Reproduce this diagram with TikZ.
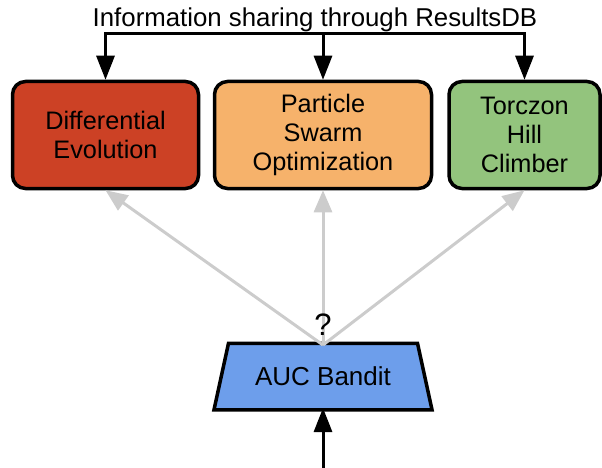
\documentclass[tikz,border=0pt]{standalone}
\usepackage{fontspec}
\setmainfont{Liberation Sans}
\usetikzlibrary{arrows.meta}
\definecolor{deRed}{HTML}{CC4125}
\definecolor{psoOrange}{HTML}{F6B26B}
\definecolor{tzGreen}{HTML}{93C47D}
\definecolor{aucBlue}{HTML}{6D9EEB}
\definecolor{lightGray}{HTML}{CCCCCC}
\begin{document}
\begin{tikzpicture}[x=1pt,y=-1pt,
  algbox/.style={draw=black, line width=3.5pt, rounded corners=13pt, align=center,
    minimum height=107pt, inner sep=0pt,
    font=\fontsize{25.3}{29}\selectfont},
  blackarr/.style={draw=black, line width=3pt, -{Triangle[length=24pt,width=18pt]}},
  grayarr/.style={draw=lightGray, line width=3pt, -{Triangle[length=22pt,width=18pt]}},
]
\useasboundingbox (0,0) rectangle (602,468);

\node[algbox, fill=deRed, minimum width=186pt] (de) at (105.5,135) {Differential\\Evolution};
\node[algbox, fill=psoOrange, minimum width=217pt] (pso) at (323,135) {Particle\\Swarm\\Optimization};
\node[algbox, fill=tzGreen, minimum width=151pt] (tz) at (524.5,135) {Torczon\\Hill\\Climber};

\node[anchor=base, inner sep=0pt, font=\fontsize{25.8}{29}\selectfont] (title) at (315,27) {Information sharing through ResultsDB};

\coordinate (hub) at (323,34);
\draw[blackarr] (hub) -| (de.north);
\draw[blackarr] (hub) -| (tz.north);
\draw[blackarr] (hub) -- (pso.north);

% AUC Bandit trapezium
\node[minimum width=200pt, minimum height=59.5pt, inner sep=0pt, outer sep=1.75pt] (auc) at (323,376.5) {};
\filldraw[fill=aucBlue, draw=black, line width=3.5pt, line join=miter]
  ([xshift=-7.25pt,yshift=-1.75pt]auc.south west) -- ([xshift=7.25pt,yshift=1.75pt]auc.north west)
  -- ([xshift=-7.25pt,yshift=1.75pt]auc.north east) -- ([xshift=7.25pt,yshift=-1.75pt]auc.south east) -- cycle;
\node[font=\fontsize{26}{30}\selectfont, inner sep=0pt] (auctext) at (auc.center) {AUC Bandit};

\draw[grayarr] (auc.north) -- (de.south);
\draw[grayarr] (auc.north) -- (pso.south);
\draw[grayarr] (auc.north) -- (tz.south);

\node[anchor=base, inner sep=0pt, font=\fontsize{31}{34}\selectfont] (q) at (323,335) {?};

\coordinate (input) at (323,468);
\draw[blackarr] (input) -- (auc.south);
\end{tikzpicture}
\end{document}
